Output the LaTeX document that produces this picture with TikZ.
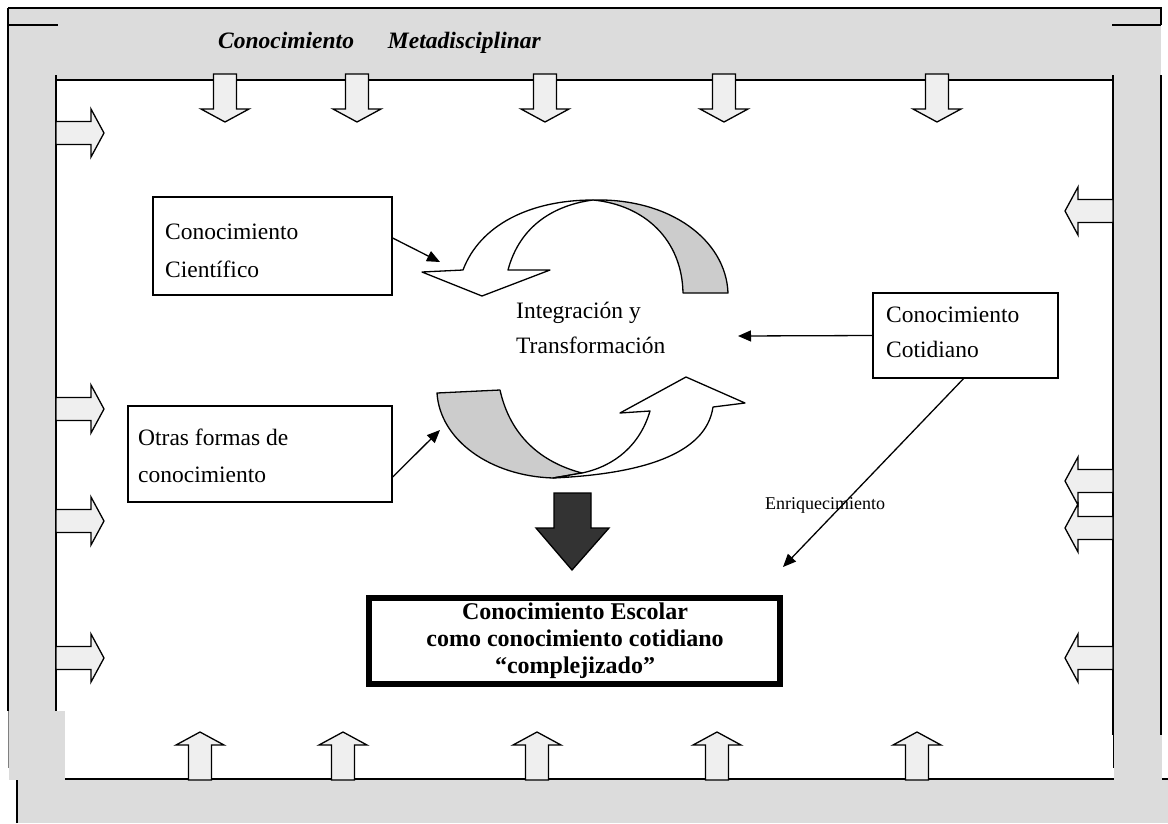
\documentclass[tikz,border=0pt]{standalone}
\usepackage{fontspec}
\setmainfont{Liberation Serif}
\usetikzlibrary{arrows.meta}
\definecolor{bandgray}{HTML}{DCDCDC}
\definecolor{arrowfill}{HTML}{EFEFEF}
\definecolor{ribbongray}{HTML}{CCCCCC}
\definecolor{darkfill}{HTML}{333333}
\tikzset{
  frameline/.style={line width=1.8pt},
  textbox/.style={draw, line width=1.3pt, fill=white, inner sep=0pt},
  plain/.style={inner sep=0pt, align=left, font=\fontsize{23.5}{35}\selectfont},
  ptr/.style={line width=1.3pt, -{Triangle[length=13pt,width=11pt]}},
  ribbonline/.style={line width=1.3pt, line join=round},
  blockarrow/.style={draw, line width=1.3pt, fill=arrowfill, line join=miter},
  % hollow block arrow, base at the origin, pointing along local +y
  blk/.pic={\path[blockarrow] (-11.5,0) -- (-11.5,35) -- (-24,35) -- (0,48)
      -- (24,35) -- (11.5,35) -- (11.5,0) -- cycle;}
}
\begin{document}
\begin{tikzpicture}[x=1pt,y=-1pt]
\useasboundingbox (0,0) rectangle (1168,823);
\fill[white] (0,0) rectangle (1168,823);

% ---------- gray frame ----------
\fill[bandgray] (17,780) rectangle (1168,823);
\fill[bandgray] (8,8) rectangle (1161,80);
\fill[bandgray] (8,8) rectangle (56,711);
\fill[bandgray] (1113,8) rectangle (1161,735);
\draw[frameline] (8,8) -- (1161,8) -- (1161,25);
\draw[frameline] (8,8) -- (8,711);
\draw[line width=0.6pt, gray] (8,711) -- (8,768);
\draw[frameline] (8,25) -- (58,25);
\draw[frameline] (1112,25) -- (1161,25);
\draw[frameline] (56,75) -- (56,711);
\draw[frameline] (56,80) -- (1113,80);
\draw[frameline] (1113,75) -- (1113,735);
\draw[line width=1pt] (1113,735) -- (1113,768);
\draw[frameline] (1161,75) -- (1161,735);
\draw[frameline] (17,823) -- (17,779) -- (1168,779);
\fill[bandgray] (8.6,711) rectangle (65,780);
\fill[bandgray] (1114,735) rectangle (1162,823);

\node[anchor=base west, inner sep=0pt, font=\fontsize{23.5}{28}\selectfont\bfseries\itshape]
  (title) at (218,48) {Conocimiento\hspace{34pt}Metadisciplinar};

% ---------- block arrows around the frame ----------
\foreach \x in {225,357,545,724,937} \pic at (\x,74) {blk};
\foreach \x in {200,343,537,717,917} \pic[rotate=180] at (\x,780) {blk};
\foreach \y in {133,409,521,658} \pic[rotate=90] at (56,\y) {blk};
\foreach \y in {211,481,528,658} \pic[rotate=-90] at (1113,\y) {blk};

% ---------- turning ribbons ----------
\path[ribbonline, draw, fill=ribbongray]
  (593,200) .. controls (670,198) and (726,240) .. (728,293) -- (683,293)
  .. controls (682,240) and (645,205) .. (593,200) -- cycle;
\path[ribbonline, draw, fill=white]
  (508,270) -- (550,270) -- (482,296) -- (422,272) -- (463,270)
  .. controls (480,225) and (530,200) .. (593,200)
  .. controls (555,205) and (520,225) .. (508,270) -- cycle;

\path[ribbonline, draw, fill=ribbongray]
  (437,393) -- (500,390) .. controls (510,435) and (540,462) .. (582,473)
  -- (553,478) .. controls (490,476) and (440,440) .. (437,393) -- cycle;
\path[ribbonline, draw, fill=white]
  (553,478) .. controls (640,474) and (706,455) .. (713,407) -- (745,403)
  -- (686,377) -- (620,413) -- (650,411)
  .. controls (640,445) and (615,466) .. (582,473) -- cycle;

% ---------- dark block arrow ----------
\path[draw, line width=1.3pt, fill=darkfill, line join=miter]
  (554,493) -- (591,493) -- (591,528) -- (609,528) -- (572,570)
  -- (536,528) -- (554,528) -- cycle;

% ---------- boxes and labels ----------
\node[textbox, minimum width=239pt, minimum height=98pt] (cient) at (272.5,246) {};
\node[plain, anchor=west, font=\fontsize{23.5}{38}\selectfont] (cientTxt) at (165,251)
  {Conocimiento\\Científico};
\node[textbox, minimum width=264pt, minimum height=96pt] (otras) at (260,454) {};
\node[plain, anchor=west, font=\fontsize{23.5}{37}\selectfont] (otrasTxt) at (138,456)
  {Otras formas de\\conocimiento};
\node[textbox, minimum width=185pt, minimum height=85pt] (cotid) at (965.5,335.5) {};
\node[plain, anchor=west] (cotidTxt) at (886,332.5) {Conocimiento\\Cotidiano};
\node[plain, anchor=west] (integr) at (516,327.5) {Integración y\\Transformación};
\node[plain, anchor=west, font=\fontsize{18}{22}\selectfont] (enriq) at (765,505) {Enriquecimiento};

\node[draw, line width=6pt, minimum width=411pt, minimum height=86pt, inner sep=0pt]
  (escolar) at (574.5,641) {};
\node[inner sep=0pt, align=center, font=\fontsize{24}{27}\selectfont\bfseries]
  (escolarTxt) at (575,641)
  {Conocimiento Escolar\\como conocimiento cotidiano\\“complejizado”};

% ---------- connectors ----------
\coordinate (ribbonTop) at (440,262);
\coordinate (ribbonBot) at (440,430);
\coordinate (integrIn) at (738,336);
\coordinate (escolarIn) at (783,567);
\draw[ptr] ([yshift=8pt]cient.east) -- (ribbonTop);
\draw[ptr] ([yshift=-23pt]otras.east) -- (ribbonBot);
\draw[ptr] (cotid.west) -- (integrIn);
\draw[ptr] ([xshift=-2pt]cotid.south) -- (escolarIn);
\end{tikzpicture}
\end{document}
